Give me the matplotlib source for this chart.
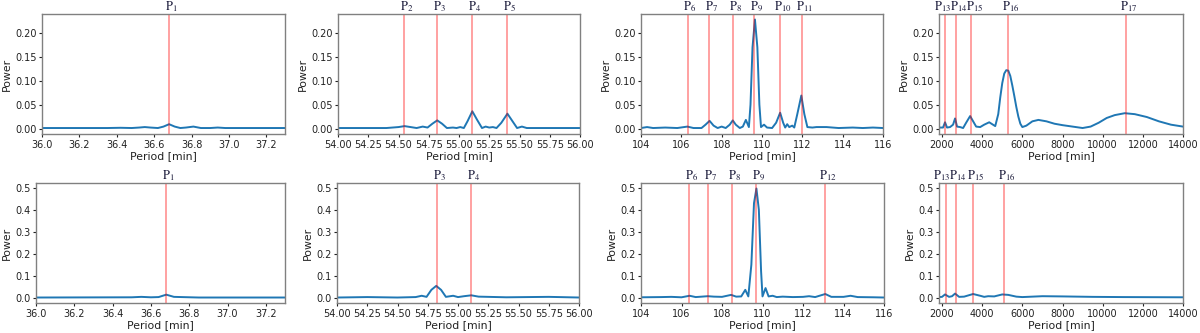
"""
Periodograms around the identified periods P1..P17 (two data sets, one per row).
"""

import numpy as np
import matplotlib.pyplot as plt
from matplotlib.transforms import offset_copy

plt.rcParams['mathtext.fontset'] = 'stix'

# ---- row 1 : power spectra -------------------------------------------------
r1p1_x = [36.0, 36.35, 36.42, 36.48, 36.52, 36.55, 36.58, 36.62, 36.65, 36.68,
          36.71, 36.74, 36.77, 36.81, 36.85, 36.9, 36.94, 36.98, 37.05, 37.3]
r1p1_y = [0.001, 0.001, 0.0015, 0.001, 0.002, 0.003, 0.002, 0.001, 0.004, 0.009,
          0.004, 0.001, 0.002, 0.004, 0.001, 0.001, 0.002, 0.001, 0.001, 0.001]

r1p2_x = [54.0, 54.4, 54.5, 54.55, 54.6, 54.65, 54.7, 54.74, 54.78, 54.82, 54.86,
          54.9, 54.95, 54.98, 55.01, 55.04, 55.07, 55.11, 55.15, 55.19, 55.22,
          55.25, 55.28, 55.31, 55.35, 55.40, 55.44, 55.48, 55.52, 55.56, 55.7, 56.0]
r1p2_y = [0.001, 0.001, 0.003, 0.005, 0.003, 0.001, 0.004, 0.002, 0.010, 0.017, 0.010,
          0.001, 0.002, 0.001, 0.003, 0.001, 0.015, 0.036, 0.018, 0.001, 0.004,
          0.002, 0.003, 0.001, 0.012, 0.031, 0.016, 0.001, 0.004, 0.001, 0.001, 0.001]

r1p3_x = [104, 104.3, 104.6, 105.2, 105.8, 106.3, 106.6, 107.0, 107.2, 107.4, 107.6,
          107.8, 108.0, 108.2, 108.4, 108.55, 108.7, 108.9, 109.05, 109.2, 109.35,
          109.43, 109.53, 109.65, 109.77, 109.87, 109.95, 110.1, 110.25, 110.5,
          110.7, 110.9, 111.05, 111.15, 111.25, 111.35, 111.5, 111.6, 111.75,
          111.95, 112.1, 112.25, 112.5, 112.7, 113.2, 113.8, 114.5, 115.0, 115.5, 116]
r1p3_y = [0.001, 0.003, 0.001, 0.002, 0.001, 0.004, 0.001, 0.001, 0.008, 0.016, 0.006,
          0.001, 0.004, 0.001, 0.008, 0.017, 0.008, 0.001, 0.004, 0.018, 0.003,
          0.05, 0.17, 0.228, 0.17, 0.05, 0.003, 0.008, 0.002, 0.001,
          0.012, 0.033, 0.012, 0.002, 0.009, 0.003, 0.006, 0.002, 0.03,
          0.069, 0.03, 0.003, 0.002, 0.003, 0.003, 0.001, 0.002, 0.001, 0.002, 0.001]

r1p4_x = [1900, 2050, 2150, 2250, 2400, 2550, 2650, 2750, 2900, 3050, 3200, 3400,
          3550, 3700, 3900, 4100, 4350, 4500, 4650, 4800, 4900, 5000, 5100, 5200,
          5300, 5400, 5500, 5600, 5700, 5800, 5900, 6000, 6200, 6500, 6800, 7200,
          7600, 8000, 8500, 9000, 9400, 9800, 10200, 10600, 11100, 11600, 12200,
          12800, 13400, 14000]
r1p4_y = [0.002, 0.002, 0.013, 0.002, 0.003, 0.008, 0.021, 0.004, 0.003, 0.001, 0.012, 0.026,
          0.015, 0.004, 0.003, 0.008, 0.013, 0.009, 0.005, 0.03, 0.065, 0.095, 0.115, 0.122,
          0.121, 0.11, 0.09, 0.068, 0.045, 0.025, 0.01, 0.003, 0.006, 0.015, 0.018, 0.015,
          0.010, 0.007, 0.004, 0.001, 0.004, 0.012, 0.022, 0.028, 0.032, 0.030, 0.024,
          0.015, 0.008, 0.004]

# ---- row 2 : power spectra -------------------------------------------------
r2p1_x = [36.0, 36.5, 36.55, 36.6, 36.64, 36.68, 36.72, 36.76, 36.85, 37.3]
r2p1_y = [0.0, 0.001, 0.003, 0.001, 0.002, 0.013, 0.003, 0.002, 0.0, 0.0]

r2p2_x = [54.0, 54.25, 54.5, 54.65, 54.70, 54.74, 54.78, 54.82, 54.86, 54.90, 54.96,
          55.0, 55.05, 55.11, 55.17, 55.25, 55.4, 55.75, 56.0]
r2p2_y = [0.0, 0.002, 0.0, 0.002, 0.008, 0.003, 0.035, 0.053, 0.035, 0.003, 0.008,
          0.002, 0.006, 0.010, 0.004, 0.003, 0.001, 0.003, 0.0]

r2p3_x = [104, 105, 105.5, 106, 106.4, 106.7, 107.3, 107.6, 108, 108.45, 108.7, 108.95,
          109.15, 109.3, 109.45, 109.58, 109.7, 109.82, 109.93, 110.0, 110.15, 110.3,
          110.5, 110.7, 111, 111.5, 112.0, 112.3, 112.6, 113.1, 113.4, 114.0, 114.35,
          114.7, 115.5, 116]
r2p3_y = [0.001, 0.002, 0.003, 0.001, 0.008, 0.002, 0.006, 0.004, 0.003, 0.012, 0.004, 0.005,
          0.035, 0.005, 0.15, 0.43, 0.497, 0.40, 0.12, 0.005, 0.043, 0.005,
          0.008, 0.002, 0.004, 0.002, 0.003, 0.006, 0.002, 0.016, 0.003, 0.003, 0.008,
          0.002, 0.001, 0.0]

r2p4_x = [1850, 2000, 2150, 2350, 2500, 2650, 2850, 3100, 3550, 3900, 4100, 4300,
          4600, 5000, 5300, 5700, 6000, 7000, 8000, 9500, 11000, 14000]
r2p4_y = [0.002, 0.003, 0.014, 0.003, 0.006, 0.018, 0.003, 0.004, 0.016, 0.008, 0.003, 0.006,
          0.005, 0.014, 0.012, 0.004, 0.002, 0.006, 0.005, 0.003, 0.002, 0.001]

# ---- marked periods --------------------------------------------------------
r1_marks = [
    {'1': 36.68},
    {'2': 54.545, '3': 54.815, '4': 55.11, '5': 55.40},
    {'6': 106.31, '7': 107.37, '8': 108.55, '9': 109.62, '10': 110.9, '11': 111.97},
    {'13': 2150, '14': 2700, '15': 3430, '16': 5280, '17': 11150},
]
r2_marks = [
    {'1': 36.68},
    {'3': 54.83, '4': 55.11},
    {'6': 106.38, '7': 107.29, '8': 108.5, '9': 109.67, '12': 113.1},
    {'13': 2210, '14': 2700, '15': 3560, '16': 5080},
]

xlims = [(36.0, 37.3), (54.0, 56.0), (104, 116), (1850, 14000)]
xticks = [np.arange(36.0, 37.21, 0.2), np.arange(54.0, 56.01, 0.25),
          np.arange(104, 116.1, 2), np.arange(2000, 14001, 2000)]
xfmt = ['{:.1f}', '{:.2f}', '{:.0f}', '{:.0f}']

r1_data = [(r1p1_x, r1p1_y), (r1p2_x, r1p2_y), (r1p3_x, r1p3_y), (r1p4_x, r1p4_y)]
r2_data = [(r2p1_x, r2p1_y), (r2p2_x, r2p2_y), (r2p3_x, r2p3_y), (r2p4_x, r2p4_y)]

# axes boxes in pixels: left, top, right, bottom
W, H = 1200, 333
r1_boxes = [(42, 14, 285, 134), (338, 14, 580, 134), (641, 14, 883, 134), (939, 14, 1183, 134)]
r2_boxes = [(36, 183, 285, 303), (337, 183, 579, 303), (641, 183, 884, 303), (939, 183, 1183, 303)]

# label nudges (pixels) where the crowded labels are pushed apart
r1_nudge = {'13': -2.5, '14': 3.0, '15': 4.0}
r2_nudge = {'13': -5.0, '14': 1.5}

fig = plt.figure(figsize=(12, 3.33), dpi=100)


def panel(box, data, marks, nudge, i, ylim, yticks, yfmt):
    l, t, r, b = box
    ax = fig.add_axes([l / W, (H - b) / H, (r - l) / W, (b - t) / H])
    x, y = data
    ax.plot(x, y, color='#1f77b4', lw=1.4)
    base = ax.get_xaxis_transform()
    for name, p in marks.items():
        ax.axvline(p, color='red', alpha=0.4, lw=1.3)
        tr = offset_copy(base, fig=fig, x=nudge.get(name, 2.5), y=0, units='dots')
        ax.text(p, 1.0, r'$\mathrm{P}_{%s}$' % name, transform=tr,
                ha='center', va='bottom', fontsize=9.0, color='#1a1a3a')
    ax.set_xlim(*xlims[i])
    ax.set_xticks(xticks[i])
    ax.set_xticklabels([xfmt[i].format(v) for v in xticks[i]])
    ax.set_ylim(*ylim)
    ax.set_yticks(yticks)
    ax.set_yticklabels([yfmt.format(v) for v in yticks])
    ax.tick_params(labelsize=7.0, length=2.5, width=0.8, pad=1.5, colors='#222222')
    ax.set_xlabel('Period [min]', fontsize=7.8, labelpad=1, color='#222222')
    ax.set_ylabel('Power', fontsize=7.8, labelpad=2, color='#222222')
    for s in ax.spines.values():
        s.set_color('#808080')
        s.set_linewidth(1.0)
    return ax


for i in range(4):
    panel(r1_boxes[i], r1_data[i], r1_marks[i], r1_nudge if i == 3 else {}, i,
          (-0.0115, 0.2395), np.arange(0, 0.201, 0.05), '{:.2f}')
    panel(r2_boxes[i], r2_data[i], r2_marks[i], r2_nudge if i == 3 else {}, i,
          (-0.025, 0.522), np.arange(0, 0.51, 0.1), '{:.1f}')

plt.savefig('out.png', dpi=100)
